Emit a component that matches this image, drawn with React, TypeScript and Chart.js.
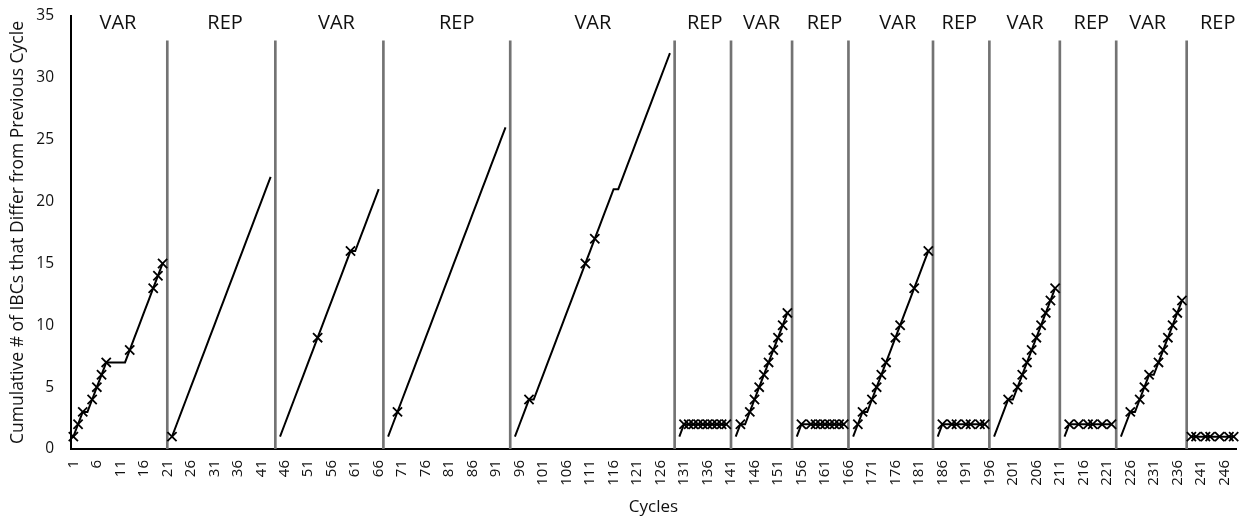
import React, { useEffect, useRef } from 'react';
import { Chart, registerables } from 'chart.js';

Chart.register(...registerables);

// ---- Categories (cycles 1..248) and shown tick labels ----
const cycles: string[] = Array.from({ length: 248 }, (_, i) => String(i + 1));
const tickLabels = [
  '1', '6', '11', '16', '21', '26', '31', '36', '41', '46', '51', '56', '61', '66', '71', '76', '81', '86', '91',
  '96', '101', '106', '111', '116', '121', '126', '131', '136', '141', '146', '151', '156', '161', '166', '171',
  '176', '181', '186', '191', '196', '201', '206', '211', '216', '221', '226', '231', '236', '241', '246',
];

// ---- Series values per phase (cumulative # of IBCs) ----
const seg01Var = [1, 2, 3, 3, 4, 5, 6, 7, 7, 7, 7, 7, 8, 9, 10, 11, 12, 13, 14, 15];
const seg02Rep = [1, 2, 3, 4, 5, 6, 7, 8, 9, 10, 11, 12, 13, 14, 15, 16, 17, 18, 19, 20, 21, 22];
const seg03Var = [1, 2, 3, 4, 5, 6, 7, 8, 9, 10, 11, 12, 13, 14, 15, 16, 16, 17, 18, 19, 20, 21];
const seg04Rep = [1, 2, 3, 4, 5, 6, 7, 8, 9, 10, 11, 12, 13, 14, 15, 16, 17, 18, 19, 20, 21, 22, 23, 24, 25, 26];
const seg05Var = [1, 2, 3, 4, 4, 5, 6, 7, 8, 9, 10, 11, 12, 13, 14, 15, 16, 17, 18, 19, 20, 21, 21, 22, 23, 24, 25, 26, 27, 28, 29, 30, 31, 32];
const seg06Rep = [1, 2, 2, 2, 2, 2, 2, 2, 2, 2, 2];
const seg07Var = [1, 2, 2, 3, 4, 5, 6, 7, 8, 9, 10, 11];
const seg08Rep = [1, 2, 2, 2, 2, 2, 2, 2, 2, 2, 2];
const seg09Var = [1, 2, 3, 3, 4, 5, 6, 7, 8, 9, 10, 11, 12, 13, 14, 15, 16];
const seg10Rep = [1, 2, 2, 2, 2, 2, 2, 2, 2, 2, 2];
const seg11Var = [1, 2, 3, 4, 4, 5, 6, 7, 8, 9, 10, 11, 12, 13];
const seg12Rep = [1, 2, 2, 2, 2, 2, 2, 2, 2, 2, 2];
const seg13Var = [1, 2, 3, 3, 4, 5, 6, 6, 7, 8, 9, 10, 11, 12];
const seg14Rep = [1, 1, 1, 1, 1, 1, 1, 1, 1, 1];

const segments = [
  seg01Var, seg02Rep, seg03Var, seg04Rep, seg05Var, seg06Rep, seg07Var,
  seg08Rep, seg09Var, seg10Rep, seg11Var, seg12Rep, seg13Var, seg14Rep,
];

// Phase labels and the cycle each label is centred on
const phaseLabels = ['VAR', 'REP', 'VAR', 'REP', 'VAR', 'REP', 'VAR', 'REP', 'VAR', 'REP', 'VAR', 'REP', 'VAR', 'REP'];
const labelCycles = [10.5, 33.3, 57, 82.6, 111.6, 135.4, 147.5, 160.9, 176.5, 189.6, 203.6, 217.7, 229.7, 244.6];

// Cycles that carry an "x" marker
const markedCycles = [
  1, 2, 3, 5, 6, 7, 8, 13, 18, 19, 20,
  22,
  53, 60,
  70,
  98, 110, 112,
  131, 132, 133, 134, 135, 136, 137, 138, 139, 140,
  143, 145, 146, 147, 148, 149, 150, 151, 152, 153,
  156, 158, 159, 160, 161, 162, 163, 164, 165,
  168, 169, 171, 172, 173, 174, 176, 177, 180, 183,
  186, 188, 189, 191, 192, 194, 195,
  200, 202, 203, 204, 205, 206, 207, 208, 209, 210,
  213, 215, 217, 218, 220, 222,
  226, 228, 229, 230, 232, 233, 234, 235, 236, 237,
  239, 240, 242, 243, 245, 247, 248,
];

// Phase separators (vertical lines) sit on these cycles
const separatorCycles = [21, 44, 67, 94, 129, 141, 154, 166, 184, 196, 211, 223, 238];
const separatorTop = 33;

// ---- Build library tables ----
const seriesValues: (number | null)[] = segments.flatMap((s, i) =>
  i < segments.length - 1 ? [...s, null] : [...s]
);
const separatorValues: (number | null)[] = cycles.map((c) =>
  separatorCycles.includes(Number(c)) ? separatorTop : null
);

const TEXT = '#111';
const FONT = '"Open Sans", "Noto Sans", sans-serif';

const phasePlugin = {
  id: 'phaseLabels',
  afterDraw(chart: any) {
    const { ctx, scales } = chart;
    const x = scales.x;
    const y = scales.y;
    ctx.save();
    ctx.font = `20px ${FONT}`;
    ctx.fillStyle = TEXT;
    ctx.textAlign = 'center';
    ctx.textBaseline = 'middle';
    phaseLabels.forEach((t, i) => {
      ctx.fillText(t, x.getPixelForValue(labelCycles[i] - 1), y.getPixelForValue(34.45));
    });
    ctx.restore();
  },
};

export default function App() {
  const ref = useRef<HTMLCanvasElement | null>(null);

  useEffect(() => {
    if (!ref.current) return;
    const chart = new Chart(ref.current, {
      type: 'bar',
      data: {
        labels: cycles,
        datasets: [
          {
            type: 'line',
            label: 'Cumulative',
            data: seriesValues,
            borderColor: '#000',
            borderWidth: 2,
            tension: 0,
            spanGaps: false,
            pointStyle: 'crossRot',
            pointRadius: (ctx: any) => (markedCycles.includes(ctx.dataIndex + 1) ? 6.5 : 0),
            pointHoverRadius: 0,
            pointBorderColor: '#000',
            pointBackgroundColor: '#000',
            pointBorderWidth: 1.8,
            order: 1,
          } as any,
          {
            type: 'bar',
            label: 'Separators',
            data: separatorValues,
            backgroundColor: '#737373',
            barThickness: 2,
            order: 2,
          } as any,
        ],
      },
      options: {
        animation: false,
        responsive: true,
        maintainAspectRatio: false,
        layout: { padding: { top: 16, right: 10, left: 0, bottom: 0 } },
        plugins: {
          legend: { display: false },
          tooltip: { enabled: false },
        },
        scales: {
          x: {
            type: 'category',
            offset: true,
            grid: { display: false, drawTicks: false },
            border: { display: true, color: '#000', width: 2 },
            ticks: {
              autoSkip: false,
              maxRotation: 90,
              minRotation: 90,
              padding: 11,
              color: TEXT,
              font: { family: FONT, size: 15 },
              callback: (_v: any, idx: number) => (tickLabels.includes(cycles[idx]) ? cycles[idx] : ''),
            },
            title: {
              display: true,
              text: 'Cycles',
              color: TEXT,
              font: { family: FONT, size: 17 },
              padding: { top: 0, bottom: 3 },
            },
            afterFit: (scale: any) => {
              scale.height = 71;
              scale.paddingLeft = 0;
              scale.paddingRight = 0;
            },
          },
          y: {
            min: 0,
            max: 35,
            grid: { display: false, drawTicks: false },
            border: { display: true, color: '#000', width: 2 },
            ticks: {
              stepSize: 5,
              padding: 17,
              color: TEXT,
              font: { family: FONT, size: 15.5 },
            },
            title: {
              display: true,
              text: 'Cumulative # of IBCs that Differ from Previous Cycle',
              color: TEXT,
              font: { family: FONT, size: 17.5 },
              padding: { top: 8, bottom: 0 },
            },
            afterFit: (scale: any) => {
              scale.width = 71;
              scale.paddingTop = 0;
              scale.paddingBottom = 0;
            },
          },
        },
      },
      plugins: [phasePlugin],
    });
    return () => chart.destroy();
  }, []);

  return (
    <div style={{ position: 'fixed', left: 0, top: 0, width: 1246, height: 520, background: '#fff' }}>
      <canvas ref={ref} />
    </div>
  );
}
